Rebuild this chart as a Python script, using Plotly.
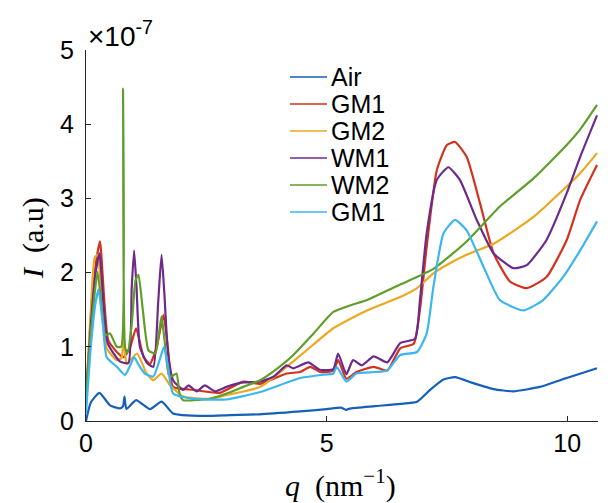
import plotly.graph_objects as go

# Intensity values in units of 1e-7 (a.u.)
names = ["Air", "GM1", "GM2", "WM1", "WM2", "GM1"]
colors = ["#1560b8", "#d2321e", "#eba821", "#6e2a8a", "#5f9e2a", "#3cb6ee"]

air_q = [0, 0.1, 0.28, 0.5, 0.71, 0.77, 0.80, 0.84, 1.04, 1.33, 1.57, 1.81, 2.0, 2.5, 3.0, 3.6,
         4.45, 5.0, 5.3, 5.4, 5.5, 6.0, 6.53, 6.88, 7.15, 7.43, 7.67, 8.05, 8.47, 8.88, 9.43, 9.99, 10.62]
air_i = [0.0, 0.25, 0.38, 0.21, 0.17, 0.20, 0.33, 0.16, 0.28, 0.16, 0.26, 0.10, 0.08, 0.07, 0.08, 0.09,
         0.13, 0.16, 0.18, 0.15, 0.17, 0.20, 0.23, 0.26, 0.42, 0.56, 0.59, 0.51, 0.43, 0.40, 0.46, 0.58, 0.71]

gm1_q = [0, 0.1, 0.2, 0.29, 0.46, 0.64, 0.78, 0.92, 1.04, 1.2, 1.33, 1.47, 1.61, 1.7, 1.81, 2.23, 2.78,
         3.27, 3.62, 4.17, 4.45, 4.66, 4.87, 5.14, 5.24, 5.41, 5.62, 5.98, 6.26, 6.53, 6.81, 6.94, 7.08,
         7.29, 7.50, 7.67, 7.91, 8.19, 8.47, 8.81, 9.16, 9.57, 9.99, 10.27, 10.62]
gm1_i = [0.3, 1.4, 2.1, 2.42, 1.09, 0.93, 0.86, 1.0, 1.25, 0.86, 0.77, 1.0, 1.43, 1.0, 0.46, 0.42, 0.38,
         0.53, 0.50, 0.64, 0.66, 0.73, 0.66, 0.68, 0.82, 0.57, 0.66, 0.73, 0.68, 0.98, 1.04, 1.5, 2.35,
         3.38, 3.72, 3.76, 3.56, 2.93, 2.26, 1.88, 1.79, 1.94, 2.44, 2.98, 3.45]

gm2_q = [0, 0.1, 0.18, 0.24, 0.30, 0.43, 0.64, 0.74, 0.78, 0.82, 0.85, 1.06, 1.26, 1.40, 1.57, 1.75,
         2.02, 2.57, 2.92, 3.62, 4.45, 5.14, 5.84, 6.53, 6.88, 7.22, 7.57, 7.91, 8.5, 9.30, 10.27, 10.62]
gm2_i = [0.3, 1.5, 2.2, 2.24, 1.9, 0.98, 0.82, 0.85, 1.2, 0.85, 0.77, 0.91, 0.64, 0.55, 0.64, 0.48,
         0.33, 0.30, 0.35, 0.46, 0.88, 1.25, 1.49, 1.67, 1.79, 1.99, 2.13, 2.24, 2.40, 2.75, 3.34, 3.61]

wm1_q = [0, 0.1, 0.2, 0.28, 0.45, 0.71, 0.88, 0.95, 1.0, 1.05, 1.12, 1.27, 1.40, 1.5, 1.57, 1.63, 1.7,
         1.81, 2.02, 2.13, 2.30, 2.47, 2.68, 2.92, 3.27, 3.62, 3.9, 4.17, 4.31, 4.62, 4.86, 5.14, 5.24,
         5.41, 5.55, 5.73, 5.98, 6.26, 6.53, 6.84, 6.94, 7.08, 7.29, 7.53, 7.77, 8.12, 8.47, 8.88, 9.16,
         9.57, 9.99, 10.27, 10.62]
wm1_i = [0.3, 1.3, 2.0, 2.26, 1.05, 0.80, 0.78, 1.8, 2.3, 1.8, 1.0, 0.78, 0.73, 1.6, 2.24, 1.7, 0.95,
         0.55, 0.42, 0.48, 0.40, 0.48, 0.40, 0.46, 0.52, 0.53, 0.60, 0.75, 0.71, 0.79, 0.69, 0.70, 0.91,
         0.63, 0.82, 0.75, 0.87, 0.79, 1.05, 1.11, 1.63, 2.53, 3.25, 3.42, 3.25, 2.71, 2.26, 2.06, 2.10,
         2.44, 3.07, 3.56, 4.12]

wm2_q = [0, 0.1, 0.24, 0.33, 0.40, 0.50, 0.64, 0.73, 0.77, 0.81, 0.86, 0.95, 1.03, 1.09, 1.18,
         1.30, 1.44, 1.52, 1.57, 1.63, 1.72, 1.78, 1.88, 1.95, 2.02, 2.23, 2.57, 2.92, 3.27, 3.62, 4.0,
         4.31, 4.73, 5.14, 5.5, 5.84, 6.53, 7.22, 7.91, 8.60, 9.30, 9.99, 10.27, 10.62]
wm2_i = [0.3, 1.2, 2.01, 1.5, 1.16, 1.18, 1.0, 1.0, 4.48, 1.0, 0.91, 1.3, 1.9, 1.97, 1.5,
         0.95, 0.91, 1.2, 1.41, 1.1, 0.62, 0.60, 0.64, 0.35, 0.28, 0.28, 0.30, 0.37, 0.46, 0.55, 0.72,
         0.89, 1.18, 1.47, 1.56, 1.63, 1.84, 2.05, 2.42, 2.89, 3.27, 3.72, 3.93, 4.26]

gm1b_q = [0, 0.1, 0.2, 0.26, 0.35, 0.43, 0.64, 0.81, 0.92, 1.0, 1.1, 1.22, 1.40, 1.52, 1.62, 1.7, 1.81,
          2.23, 2.92, 3.62, 4.45, 4.87, 5.14, 5.21, 5.41, 5.62, 6.0, 6.26, 6.53, 6.88, 7.08, 7.22, 7.43,
          7.67, 7.91, 8.26, 8.60, 9.09, 9.50, 9.92, 10.27, 10.62]
gm1b_i = [0.1, 1.0, 1.6, 1.77, 1.3, 0.86, 0.73, 0.62, 0.75, 0.86, 0.75, 0.64, 0.60, 0.8, 1.0, 0.75, 0.37,
          0.30, 0.29, 0.39, 0.58, 0.62, 0.64, 0.73, 0.53, 0.64, 0.66, 0.68, 0.89, 0.93, 1.18, 1.81, 2.53,
          2.71, 2.57, 2.08, 1.63, 1.49, 1.63, 1.945, 2.30, 2.69]

series = [(air_q, air_i), (gm1_q, gm1_i), (gm2_q, gm2_i), (wm1_q, wm1_i), (wm2_q, wm2_i), (gm1b_q, gm1b_i)]

x_ticks = [0, 5, 10]
y_ticks = [0, 1, 2, 3, 4, 5]

W, H = 608, 503
ml, mr, mt, mb = 86, 10, 50, 82
pw, ph = W - ml - mr, H - mt - mb


def px(xp):
    return (xp - ml) / pw


def py(yp):
    return (H - mb - yp) / ph


fig = go.Figure()
for name, color, (q, i) in zip(names, colors, series):
    fig.add_trace(go.Scatter(x=q, y=i, mode="lines", name=name, showlegend=False,
                             line=dict(color=color, width=2.2, shape="spline", smoothing=0.5)))

sans = "Liberation Sans, Arial, sans-serif"
serif = "Liberation Serif, Times New Roman, serif"
tickfont = dict(family=sans, size=25, color="black")
axis_common = dict(showgrid=False, zeroline=False, showline=True, linecolor="#262626", linewidth=1,
                   ticks="inside", ticklen=5, tickcolor="#262626", tickfont=tickfont)

fig.update_layout(
    width=W, height=H,
    margin=dict(l=ml, r=mr, t=mt, b=mb),
    plot_bgcolor="white", paper_bgcolor="white",
    xaxis=dict(range=[0, 10.64], tickvals=x_ticks, ticktext=[str(v) for v in x_ticks], **axis_common),
    yaxis=dict(range=[0, 5], tickvals=y_ticks, ticktext=[str(v) for v in y_ticks],
               ticklabelstandoff=6, **axis_common),
    showlegend=False,
)

# legend drawn as line shapes + text labels (MATLAB-style compact legend)
leg_y0, leg_dy = 77, 27
for k, (name, color) in enumerate(zip(names, colors)):
    yk = py(leg_y0 + leg_dy * k)
    fig.add_shape(type="line", xref="paper", yref="paper", x0=px(290), x1=px(327), y0=yk, y1=yk,
                  line=dict(color=color, width=1.5))
    fig.add_annotation(text=name, xref="paper", yref="paper", x=px(329), y=yk, showarrow=False,
                       xanchor="left", yanchor="middle", font=dict(family=sans, size=25, color="black"))

fig.add_annotation(text="<i>q</i>  (nm<sup>−1</sup>)", xref="paper", yref="paper",
                   x=px(340), y=py(483), showarrow=False, xanchor="center", yanchor="middle",
                   font=dict(family=serif, size=30, color="black"))
fig.add_annotation(text="<i>I</i>  (a.u)", xref="paper", yref="paper", textangle=-90,
                   x=px(33), y=py(238), showarrow=False, xanchor="center", yanchor="middle",
                   font=dict(family=serif, size=30, color="black"))
fig.add_annotation(text="×10<sup>-7</sup>", xref="paper", yref="paper",
                   x=px(86), y=py(34), showarrow=False, xanchor="left", yanchor="middle",
                   font=dict(family=sans, size=28, color="black"))

fig.write_html("out.html")
